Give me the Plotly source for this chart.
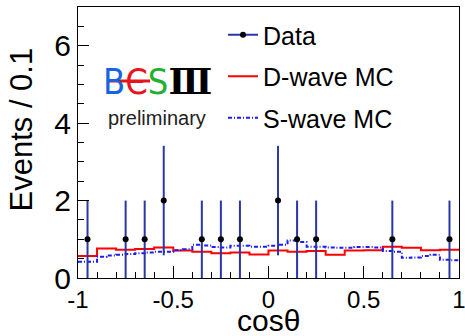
import numpy as np
import plotly.graph_objects as go

# ---------------- data ----------------
data_centers = [-0.95, -0.85, -0.75, -0.65, -0.55, -0.45, -0.35, -0.25, -0.15, -0.05,
                0.05, 0.15, 0.25, 0.35, 0.45, 0.55, 0.65, 0.75, 0.85, 0.95]
data_counts = [1, 0, 1, 1, 2, 0, 1, 1, 1, 0,
               2, 1, 1, 0, 0, 0, 1, 0, 0, 1]

dwave_edges = [round(-1 + 0.1 * i, 2) for i in range(21)]
dwave_values = [0.57, 0.76, 0.73, 0.75, 0.79, 0.71, 0.68, 0.64, 0.66, 0.61,
                0.71, 0.68, 0.70, 0.60, 0.71, 0.72, 0.81, 0.78, 0.72, 0.73]

swave_edges = [round(-1 + 0.05 * i, 3) for i in range(41)]
swave_values = [0.42, 0.42, 0.55, 0.58, 0.60, 0.62, 0.64, 0.66, 0.68, 0.68,
                0.72, 0.74, 0.86, 0.84, 0.80, 0.79, 0.83, 0.83, 0.81, 0.81,
                0.83, 0.86, 0.97, 0.93, 0.81, 0.81, 0.79, 0.78, 0.78, 0.80,
                0.80, 0.79, 0.70, 0.68, 0.52, 0.53, 0.57, 0.60, 0.47, 0.46]

x_tickvals = [-1, -0.5, 0, 0.5, 1]
x_ticktext = ["-1", "-0.5", "0", "0.5", "1"]
y_tickvals = [0, 2, 4, 6]
y_ticktext = ["0", "2", "4", "6"]

FONT = "Liberation Sans, Arial, Helvetica, sans-serif"
W, H = 465, 336
L, R, T, B = 78, 6, 7, 58
PW, PH = W - L - R, H - T - B


def px_to_paper(px, py):
    return (px - L) / PW, (H - B - py) / PH


fig = go.Figure()

# legend entry for data (no marks of its own)
fig.add_trace(go.Scatter(
    x=[None], y=[None], mode="lines+markers",
    line=dict(color="#2a36a6", width=2),
    marker=dict(color="black", size=6),
    name="Data", legendgroup="a",
))

# D-wave MC (red step)
dx = dwave_edges
dy = dwave_values + [dwave_values[-1]]
fig.add_trace(go.Scatter(
    x=dx, y=dy, mode="lines", line_shape="hv",
    line=dict(color="#ff0000", width=2),
    name="D-wave MC", legendgroup="d",
))

# S-wave MC (blue dash-dot step)
sx = swave_edges
sy = swave_values + [swave_values[-1]]
fig.add_trace(go.Scatter(
    x=sx, y=sy, mode="lines", line_shape="hv",
    line=dict(color="#1a1aff", width=2, dash="4px,2px,1px,2px"),
    name="S-wave MC", legendgroup="s",
))

# Data points with sqrt(N) errors
cx = [c for c, n in zip(data_centers, data_counts) if n > 0]
cy = [n for n in data_counts if n > 0]
err = [float(np.sqrt(n)) for n in cy]
fig.add_trace(go.Scatter(
    x=cx, y=cy, mode="markers",
    marker=dict(color="black", size=6),
    error_y=dict(type="data", array=err, visible=True, width=0,
                 thickness=2, color="#2a36a6"),
    showlegend=False,
))

fig.update_layout(
    width=W, height=H,
    margin=dict(l=L, r=R, t=T, b=B, autoexpand=False),
    paper_bgcolor="white", plot_bgcolor="white",
    font=dict(family=FONT, color="black"),
    showlegend=True,
    legend=dict(
        x=(223 - L) / PW, y=px_to_paper(0, 12)[1], xanchor="left", yanchor="top",
        bgcolor="rgba(0,0,0,0)", font=dict(size=25, family=FONT),
        tracegroupgap=6, traceorder="grouped",
    ),
)

fig.update_xaxes(
    range=[-1, 1], tickvals=x_tickvals, ticktext=x_ticktext,
    ticks="inside", ticklen=12, tickwidth=1, tickcolor="black",
    minor=dict(ticks="inside", dtick=0.1, ticklen=6, tickcolor="black", tickwidth=1),
    showline=True, mirror=True, linecolor="black", linewidth=1,
    showgrid=False, zeroline=False, automargin=False, ticklabeloverflow="allow",
    tickfont=dict(size=24, family=FONT),
)
fig.update_yaxes(
    range=[0, 7], tickvals=y_tickvals, ticktext=y_ticktext,
    ticks="inside", ticklen=11, tickwidth=1, tickcolor="black",
    minor=dict(ticks="inside", dtick=0.5, ticklen=6, tickcolor="black", tickwidth=1),
    showline=True, mirror=True, linecolor="black", linewidth=1,
    showgrid=False, zeroline=False, automargin=False, ticklabeloverflow="allow",
    tickfont=dict(size=30, family=FONT),
)

# axis titles
tx, ty = px_to_paper(21, 129.5)
fig.add_annotation(text="Events / 0.1", xref="paper", yref="paper", x=tx, y=ty,
                   xanchor="center", yanchor="middle", textangle=-90,
                   showarrow=False, font=dict(size=31, family=FONT))
tx, ty = px_to_paper(268, 320)
fig.add_annotation(text="cosθ", xref="paper", yref="paper", x=tx, y=ty,
                   xanchor="center", yanchor="middle",
                   showarrow=False, font=dict(size=30, family=FONT))

# BESIII logo
lx, ly = px_to_paper(157, 81)
logo = ("<span style='color:#1565e0'>B</span>"
        "<span style='color:#e8141c'>Є</span>"
        "<span style='color:#1fb030'>S</span>"
        "<span style='color:#000000;font-family:DejaVu Serif'><b>Ⅲ</b></span>")
fig.add_annotation(text=logo, xref="paper", yref="paper", x=lx, y=ly,
                   xanchor="center", yanchor="middle", showarrow=False,
                   font=dict(size=36, family="DejaVu Sans Condensed, Liberation Sans Narrow, Liberation Sans, sans-serif"))
x0, y0 = px_to_paper(108, 81)
x1, _ = px_to_paper(150, 81)
fig.add_shape(type="line", xref="paper", yref="paper", x0=x0, x1=x1, y0=y0, y1=y0,
              line=dict(color="#e8141c", width=3))
px_, py_ = px_to_paper(157, 118)
fig.add_annotation(text="preliminary", xref="paper", yref="paper", x=px_, y=py_,
                   xanchor="center", yanchor="middle", showarrow=False,
                   font=dict(size=20, family=FONT, color="#222222"))

fig.write_html("out.html", config={"displayModeBar": False},
               post_script="document.body.style.margin='0';")
